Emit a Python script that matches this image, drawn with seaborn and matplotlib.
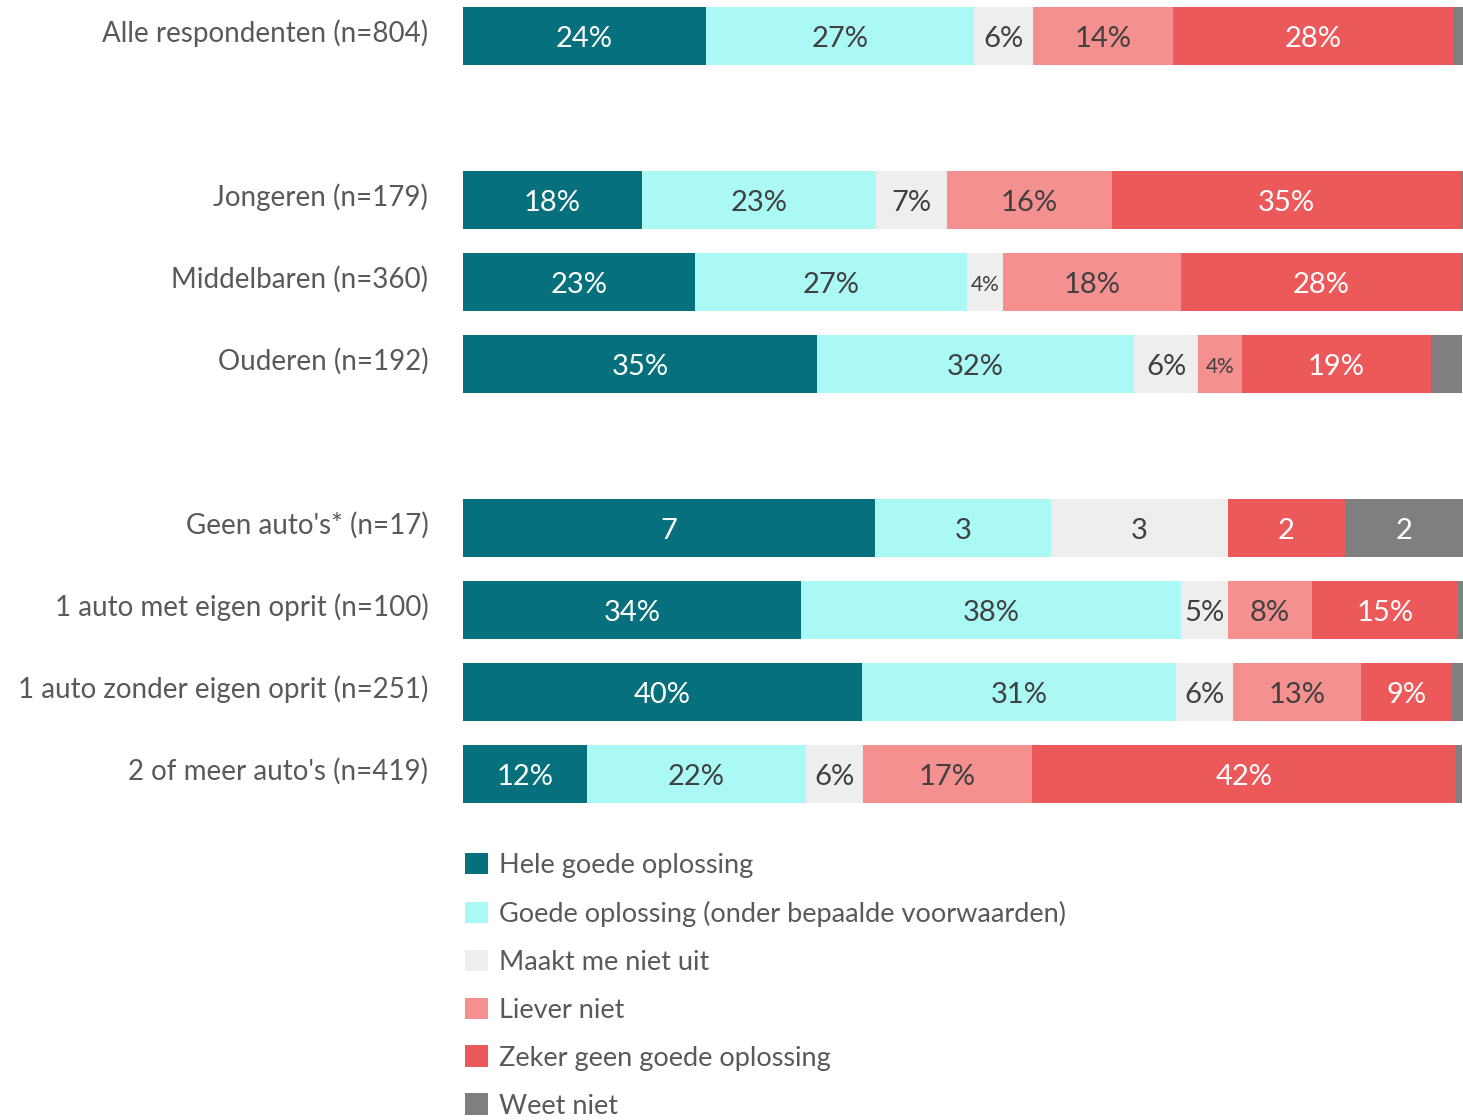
import numpy as np
import pandas as pd
import matplotlib
matplotlib.use("Agg")
import matplotlib.pyplot as plt
import matplotlib.transforms as mtransforms
import seaborn as sns
from matplotlib.patches import Patch

# Data (shares in %)
groups = ["Alle respondenten (n=804)", "Jongeren (n=179)", "Middelbaren (n=360)",
          "Ouderen (n=192)", "Geen auto's* (n=17)", "1 auto met eigen oprit (n=100)",
          "1 auto zonder eigen oprit (n=251)", "2 of meer auto's (n=419)"]
answers = ["Hele goede oplossing", "Goede oplossing (onder bepaalde voorwaarden)",
           "Maakt me niet uit", "Liever niet", "Zeker geen goede oplossing", "Weet niet"]

hele_goed = [24.3, 17.9, 23.2, 35.4, None, 33.8, 39.9, 12.4]
goed = [26.8, 23.4, 27.2, 31.7, None, 38.0, 31.4, 21.9]
maakt_niet_uit = [5.9, 7.1, 3.6, 6.4, None, 4.7, 5.7, 5.7]
liever_niet = [14.0, 16.5, 17.8, 4.4, None, 8.4, 12.8, 16.9]
zeker_geen = [28.0, 34.9, 28.0, 18.9, None, 14.6, 9.1, 42.4]
weet_niet = [1.0, 0.2, 0.2, 3.1, None, 0.5, 1.1, 0.6]

# Geen auto's group is shown as counts (n=17)
geen_auto_counts = [7, 3, 3, 0, 2, 2]
geen_auto_n = 17

colors = ["#06707C", "#ABF9F5", "#EEEEEE", "#F4908F", "#EC595B", "#7F7F7F"]
label_colors = ["white", "#404040", "#404040", "#404040", "white", "white"]

# Row layout with blank spacer rows
order = ["Alle respondenten (n=804)", " ", "Jongeren (n=179)", "Middelbaren (n=360)",
         "Ouderen (n=192)", "  ", "Geen auto's* (n=17)", "1 auto met eigen oprit (n=100)",
         "1 auto zonder eigen oprit (n=251)", "2 of meer auto's (n=419)"]

series = [hele_goed, goed, maakt_niet_uit, liever_niet, zeker_geen, weet_niet]
df = pd.DataFrame({a: s for a, s in zip(answers, series)}, index=groups)
geen_idx = "Geen auto's* (n=17)"
df.loc[geen_idx] = [c / geen_auto_n * 100 for c in geen_auto_counts]
cum = df.cumsum(axis=1)
left = cum - df

sns.set_theme(style="white")
plt.rcParams['font.family'] = ['Lato', 'DejaVu Sans']

fig = plt.figure(figsize=(14.63, 11.2), dpi=100)
ax = fig.add_axes([463 / 1463, 1 - 820 / 1120, 1000 / 1463, 820 / 1120])

# stacked bars: draw cumulative totals from the last answer to the first
for a, col in reversed(list(zip(answers, colors))):
    plot_df = pd.DataFrame({"group": cum.index, "value": cum[a].values})
    sns.barplot(data=plot_df, y="group", x="value", order=order, color=col,
                width=0.71, saturation=1, orient="h", ax=ax, linewidth=0)

# segment labels
for g in groups:
    row = order.index(g)
    for j, a in enumerate(answers):
        w = df.loc[g, a]
        if g == geen_idx:
            if geen_auto_counts[j] == 0:
                continue
            txt = str(geen_auto_counts[j])
            fs = 21
        else:
            if w < 3.5 or j == 5:
                continue
            txt = f"{round(w)}%"
            fs = 15 if w < 4.5 else 21
        ax.text(left.loc[g, a] + w / 2, row + 0.04, txt, ha="center", va="center",
                fontsize=fs, color=label_colors[j])

ax.set_xlim(0, 100)
ax.set_ylim(9.561, -0.439)
ax.set_xlabel("")
ax.set_ylabel("")
ax.set_xticks([])
ax.tick_params(axis="y", length=0, pad=25, labelsize=20, labelcolor="#595959")
# group labels sit slightly above the bar centre
shift = mtransforms.ScaledTranslation(0, 5 / 100, fig.dpi_scale_trans)
for lab in ax.get_yticklabels():
    lab.set_transform(lab.get_transform() + shift)
for s in ax.spines.values():
    s.set_visible(False)

handles = [Patch(facecolor=c, edgecolor="none", label=a) for a, c in zip(answers, colors)]
fig.legend(handles=handles, loc="upper left", bbox_to_anchor=(454 / 1463, 1 - 842 / 1120),
           frameon=False, fontsize=19.5, labelcolor="#595959", handlelength=0.85,
           handleheight=0.85, handletextpad=0.4, labelspacing=0.84, borderaxespad=0)

fig.savefig("out.png", dpi=100)
